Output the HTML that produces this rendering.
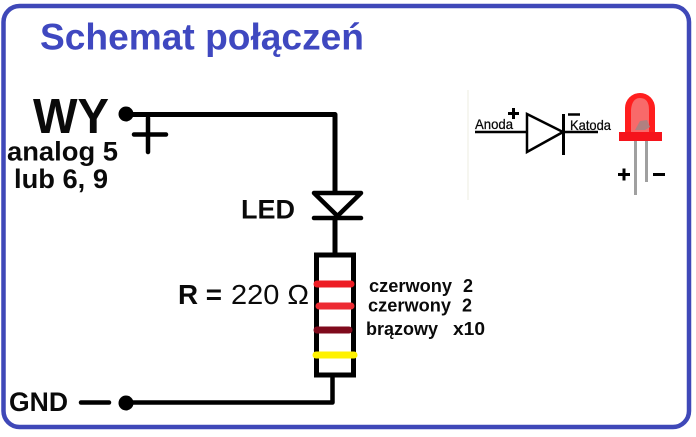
<!DOCTYPE html>
<html><head><meta charset="utf-8"><style>
html,body{margin:0;padding:0;background:#fff;width:696px;height:437px;overflow:hidden}
svg{display:block}
text{font-family:"Liberation Sans",sans-serif;font-weight:bold;fill:#0a0a0a}
</style></head><body>
<svg width="696" height="437" viewBox="0 0 696 437" xmlns="http://www.w3.org/2000/svg">
<rect x="3.5" y="6" width="685.5" height="421" rx="16" fill="#fff" stroke="#3f48b8" stroke-width="4.5"/>
<text x="40" y="49.500" font-size="37" textLength="324" lengthAdjust="spacingAndGlyphs" style="fill:#3f48c0">Schemat połączeń</text>
<text x="33" y="133" font-size="49" textLength="76" lengthAdjust="spacingAndGlyphs">WY</text>
<text x="7" y="160.500" font-size="27" textLength="111" lengthAdjust="spacingAndGlyphs">analog 5</text>
<text x="14" y="188" font-size="27" textLength="94" lengthAdjust="spacingAndGlyphs">lub 6, 9</text>
<text x="241" y="218.500" font-size="27" textLength="54" lengthAdjust="spacingAndGlyphs">LED</text>
<text x="178" y="304" font-size="27.500" textLength="44" lengthAdjust="spacingAndGlyphs">R =</text>
<text x="231" y="304" font-size="28" textLength="78" lengthAdjust="spacingAndGlyphs" style="font-weight:normal">220 Ω</text>
<text x="9" y="411" font-size="27" textLength="59" lengthAdjust="spacingAndGlyphs">GND</text>
<text x="369" y="292" font-size="18" textLength="83" lengthAdjust="spacingAndGlyphs">czerwony</text>
<text x="463" y="292" font-size="18">2</text>
<text x="368" y="311.500" font-size="18" textLength="83" lengthAdjust="spacingAndGlyphs">czerwony</text>
<text x="462" y="311.500" font-size="18">2</text>
<text x="366" y="335" font-size="18" textLength="72" lengthAdjust="spacingAndGlyphs">brązowy</text>
<text x="453" y="335" font-size="18" textLength="32" lengthAdjust="spacingAndGlyphs">x10</text>

<g fill="none" stroke="#000" stroke-linejoin="round" stroke-linecap="round">
<path d="M126 114.500H335V192" stroke-width="5"/>
<path d="M148 118V152M134 134.500H166" stroke-width="4.500"/>
<path d="M314 193H361L337.500 216Z" stroke-width="4.500"/>
<path d="M314 218H361" stroke-width="4.500"/>
<path d="M335 218V254" stroke-width="5" stroke-linecap="butt"/>
<rect x="316.500" y="255" width="37" height="120" stroke-width="5" stroke-linejoin="miter"/>
<path d="M332.500 375V402.500H126" stroke-width="4.500"/>
<path d="M81 402.500H109" stroke-width="4.500"/>
</g>
<circle cx="126" cy="114" r="7.500" fill="#000"/>
<circle cx="126" cy="403" r="7.500" fill="#000"/>

<g fill="none" stroke-linecap="round" stroke-width="7">
<path d="M317 284H351" stroke="#ed1c24"/>
<path d="M319 306H351" stroke="#ed2b33"/>
<path d="M317 330H349" stroke="#7f0a1c"/>
<path d="M316 355H354" stroke="#fff200"/>
</g>

<!-- inset -->
<rect x="467" y="90" width="2" height="110" fill="#f6f6f0"/>
<g fill="none" stroke="#000">
<path d="M475 132H527" stroke-width="2.500"/>
<path d="M527 114L563 132L527 152Z" stroke-width="2.500"/>
<path d="M563.500 114V155" stroke-width="3"/>
<path d="M563 132H598" stroke-width="2.500"/>
<path d="M508 113.500H519M513.500 108V119" stroke-width="3"/>
<path d="M568 114.500H580" stroke-width="2.500"/>
<path d="M618 174.500H630M624 168.500V180.500" stroke-width="3"/>
<path d="M653 174.500H665" stroke-width="3"/>
</g>
<text x="475" y="129" font-size="14" textLength="38" lengthAdjust="spacingAndGlyphs" style="font-weight:normal;stroke:#000;stroke-width:.25">Anoda</text>
<text x="570" y="130" font-size="14" textLength="41" lengthAdjust="spacingAndGlyphs" style="font-weight:normal;stroke:#000;stroke-width:.25">Katoda</text>
<path d="M625 133V108A15 15 0 0 1 655 108V133Z" fill="#ff1e1e"/>
<path d="M631 132V110Q632 98 640 98Q649 98 649 110V132Z" fill="#f86a6a"/>
<rect x="619" y="132" width="43" height="9" fill="#f5141c"/>
<path d="M635 130L640 121L647 120L650 127L645 130Z" fill="#b08080"/>
<rect x="634" y="141" width="3" height="54" fill="#a0a0a0"/>
<rect x="645" y="141" width="3" height="41" fill="#a0a0a0"/>
</svg>
</body></html>
